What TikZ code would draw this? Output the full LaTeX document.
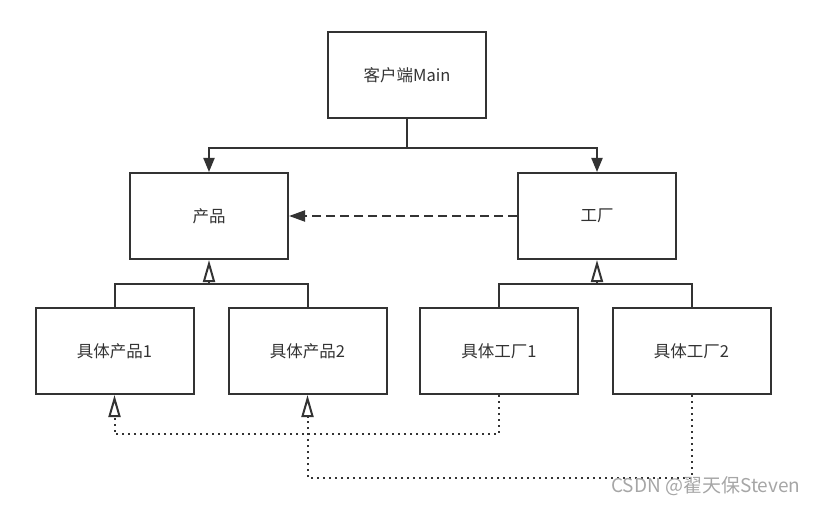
\documentclass[tikz,border=0pt]{standalone}
\usepackage{fontspec}
\setmainfont{Noto Sans CJK SC}
\usetikzlibrary{arrows.meta}
\definecolor{linegray}{RGB}{51,51,51}
\tikzset{
  boxnode/.style = {rectangle, draw=linegray, line width=2pt, minimum width=158pt,
    minimum height=86pt, inner sep=0pt, font=\fontsize{16.5}{18}\selectfont, text=linegray},
  link/.style = {draw=linegray, line width=2pt},% plain connector
  usearrow/.style = {link, -{Triangle[length=14pt,width=11pt]}},
  deparrow/.style = {link, dash pattern=on 9pt off 5pt, -{Triangle[length=16pt,width=11pt]}},
  inhearrow/.style = {link, -{Triangle[open,length=22pt,width=12pt]}},
  implarrow/.style = {link, dash pattern=on 2pt off 4pt, -{Triangle[open,length=22pt,width=12pt]}}
}
\begin{document}
\begin{tikzpicture}[x=1pt,y=-1pt]
\useasboundingbox (0,0) rectangle (818,505);
% boxes
\node [boxnode] (main) at (407,75) {客户端Main};
\node [boxnode] (chanpin) at (209,216) {产品};
\node [boxnode] (gongchang) at (597,216) {工厂};
\node [boxnode] (p1) at (114.5,351) {具体产品1};
\node [boxnode] (p2) at (307.5,351) {具体产品2};
\node [boxnode] (f1) at (499,351) {具体工厂1};
\node [boxnode] (f2) at (691.5,351) {具体工厂2};
% client uses both
\draw [usearrow] (main.south) -- ++(0,29) -| (chanpin.north);
\draw [usearrow] (main.south) -- ++(0,29) -| (gongchang.north);
% factory depends on product
\draw [deparrow] (gongchang.west) -- (chanpin.east);
% inheritance
\coordinate (pj) at (209,284);
\coordinate (fj) at (597,284);
\draw [link] (p1.north) |- (pj) -| (p2.north);
\draw [inhearrow] (pj) -- (chanpin.south);
\draw [link] (f1.north) |- (fj) -| (f2.north);
\draw [inhearrow] (fj) -- (gongchang.south);
% factories create products
\draw [implarrow] (f1.south) -- ++(0,39) -| (p1.south);
\draw [implarrow] (f2.south) -- ++(0,83) -| (p2.south);
% watermark
\node [text=gray!70, font=\fontsize{19}{21}\selectfont, anchor=east] (mark) at (804,486) {CSDN @翟天保Steven};
\end{tikzpicture}
\end{document}
